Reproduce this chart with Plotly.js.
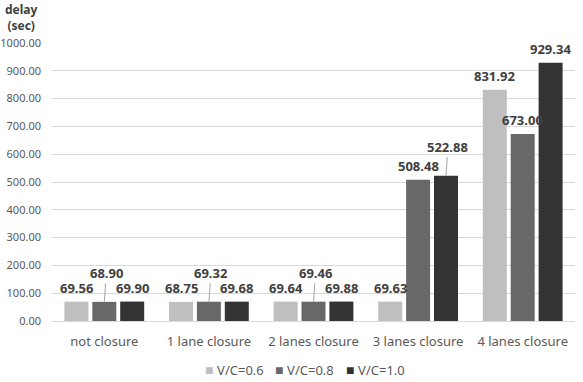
<!DOCTYPE html>
<html>
<head>
<meta charset="utf-8">
<script src="https://cdn.plot.ly/plotly-3.0.1.min.js"></script>
<style>html,body{margin:0;padding:0;background:#fff;}#chart{width:583px;height:382px;}</style>
</head>
<body>
<div id="chart"></div>
<script>
const categories = ["not closure", "1 lane closure", "2 lanes closure", "3 lanes closure", "4 lanes closure"];
const seriesNames = ["V/C=0.6", "V/C=0.8", "V/C=1.0"];
const vc06 = [69.56, 68.75, 69.64, 69.63, 831.92];
const vc08 = [68.90, 69.32, 69.46, 508.48, 673.00];
const vc10 = [69.90, 69.68, 69.88, 522.88, 929.34];
const colors = ["#bfbfbf", "#686868", "#333333"];
// labels drawn raised with a leader line: [series index, category index]
const leaderLabels = [[1, 0], [1, 1], [1, 2], [2, 3]];

const series = [vc06, vc08, vc10];
const bargap = 0.2;
const slot = (1 - bargap) / series.length;
const FONT = "Noto Sans, Open Sans, sans-serif";

const traces = series.map((vals, s) => ({
  type: "bar",
  name: seriesNames[s],
  x: categories,
  y: vals,
  marker: {color: colors[s]},
  hoverinfo: "x+y+name"
}));

const annotations = [];
series.forEach((vals, s) => {
  vals.forEach((v, c) => {
    const xpos = c + (s - (series.length - 1) / 2) * slot;
    const isLeader = leaderLabels.some(p => p[0] === s && p[1] === c);
    const a = {
      x: xpos, y: v, xref: "x", yref: "y",
      text: v.toFixed(2),
      font: {family: FONT, size: 13, color: "#404040", weight: 700},
      xanchor: "center", yanchor: "middle"
    };
    if (isLeader) {
      Object.assign(a, {showarrow: true, arrowhead: 0, arrowwidth: 1, arrowcolor: "#a6a6a6", ax: 2, ay: -29, standoff: 0});
    } else {
      Object.assign(a, {showarrow: false, yshift: 14});
    }
    annotations.push(a);
  });
});

// y-axis title (unrotated, above the axis)
annotations.push({
  xref: "paper", yref: "paper", x: -0.058, y: 1.025, xanchor: "center", yanchor: "bottom",
  text: "delay<br>(sec)", showarrow: false, align: "center",
  font: {family: FONT, size: 12, color: "#404040", weight: 700}
});

// legend entries (compact, like the reference)
const legendX = [0.2887, 0.4226, 0.5583];
seriesNames.forEach((n, s) => {
  annotations.push({
    xref: "paper", yref: "paper", x: legendX[s], y: -0.176, xanchor: "left", yanchor: "middle",
    showarrow: false,
    text: `<span style="color:${colors[s]};font-size:14px;">■ </span>${n}`,
    font: {family: FONT, size: 13, color: "#595959"}
  });
});

const layout = {
  width: 583, height: 382,
  margin: {l: 52, r: 8, t: 43, b: 61, autoexpand: false},
  paper_bgcolor: "#ffffff", plot_bgcolor: "#ffffff",
  font: {family: FONT, color: "#595959"},
  barmode: "group", bargap: bargap, bargroupgap: 0.14,
  showlegend: false,
  xaxis: {
    type: "category", showgrid: false, showline: true, linecolor: "#d9d9d9", linewidth: 1,
    ticks: "", tickfont: {size: 13, color: "#595959"}, ticklabelstandoff: 8
  },
  yaxis: {
    range: [0, 1000], dtick: 100, tickformat: ".2f",
    showgrid: true, gridcolor: "#d9d9d9", gridwidth: 1, zeroline: true, zerolinecolor: "#d9d9d9",
    showline: false, ticks: "", tickfont: {size: 11, color: "#595959"}, ticklabelstandoff: 10
  },
  annotations: annotations
};

Plotly.newPlot("chart", traces, layout, {displayModeBar: false, staticPlot: true});
</script>
</body>
</html>
